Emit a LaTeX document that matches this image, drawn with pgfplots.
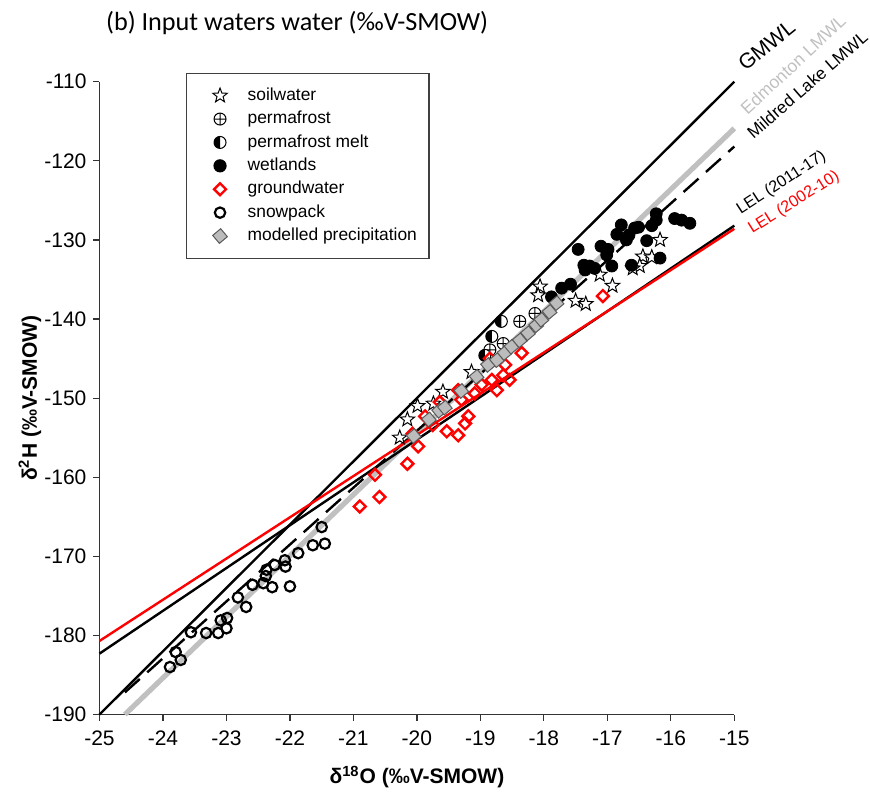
\documentclass[border=0pt]{standalone}
\usepackage{fontspec}
\setmainfont{Liberation Sans}
\newfontfamily\calibri{Carlito}
\usepackage{pgfplots}
\pgfplotsset{compat=1.18}
\usetikzlibrary{plotmarks}

\definecolor{lmwlgray}{RGB}{192,192,192}
\definecolor{prcpfill}{RGB}{188,188,188}
\definecolor{prcpedge}{RGB}{90,90,90}

% open five-pointed star
\pgfdeclareplotmark{ostar}{%
  \pgfpathmoveto{\pgfpointpolar{90}{\pgfplotmarksize}}%
  \pgfpathlineto{\pgfpointpolar{126}{0.42\pgfplotmarksize}}%
  \pgfpathlineto{\pgfpointpolar{162}{\pgfplotmarksize}}%
  \pgfpathlineto{\pgfpointpolar{198}{0.42\pgfplotmarksize}}%
  \pgfpathlineto{\pgfpointpolar{234}{\pgfplotmarksize}}%
  \pgfpathlineto{\pgfpointpolar{270}{0.42\pgfplotmarksize}}%
  \pgfpathlineto{\pgfpointpolar{306}{\pgfplotmarksize}}%
  \pgfpathlineto{\pgfpointpolar{342}{0.42\pgfplotmarksize}}%
  \pgfpathlineto{\pgfpointpolar{18}{\pgfplotmarksize}}%
  \pgfpathlineto{\pgfpointpolar{54}{0.42\pgfplotmarksize}}%
  \pgfpathclose
  \pgfusepathqfillstroke}

% circle, white with left half black
\pgfdeclareplotmark{lhalf}{%
  \pgfpathcircle{\pgfpointorigin}{\pgfplotmarksize}%
  \pgfsetfillcolor{white}%
  \pgfusepathqfillstroke
  \pgfpathmoveto{\pgfqpoint{0pt}{\pgfplotmarksize}}%
  \pgfpatharc{90}{270}{\pgfplotmarksize}%
  \pgfpathclose
  \pgfsetfillcolor{black}%
  \pgfusepathqfill}

\pgfplotsset{
  mk/.style={only marks,
    legend image code/.code={\path (0pt,0pt) (24pt,0pt);
      \draw[##1] plot coordinates {(12.5pt,0pt)};}},
}

\begin{document}
\begin{tikzpicture}
\begin{axis}[
    at={(0,0)}, anchor=south west,
    scale only axis, width=317.4pt, height=316.4pt,
    xmin=-25, xmax=-15, ymin=-190, ymax=-110,
    xtick={-25,-24,...,-15}, ytick={-190,-180,...,-110},
    axis x line*=bottom, axis y line*=left,
    axis line style={black!80, line width=0.6pt},
    tick align=outside, major tick length=3pt,
    tick style={black!80, line width=0.6pt},
    tick label style={font=\fontsize{10.5}{12}\selectfont},
    xticklabel style={yshift=-1.5pt},
    /pgf/number format/assume math mode=true,
    xlabel={δ\textsuperscript{18}O (‰V-SMOW)},
    ylabel={δ\textsuperscript{2}H (‰V-SMOW)},
    xlabel style={font=\bfseries\fontsize{10.5}{12}\selectfont,
      at={(axis description cs:0.5,-0.0988)}, anchor=center},
    ylabel style={font=\bfseries\fontsize{10.5}{12}\selectfont,
      at={(axis description cs:-0.1095,0.5)}, anchor=center},
    clip=false,
    legend style={at={(rel axis cs:0.136,1.014)}, anchor=north west,
      draw=black!75, line width=0.6pt, inner xsep=4pt, inner ysep=5pt,
      font=\fontsize{8.7}{10}\selectfont, row sep=-0.5pt,
      nodes={text height=6.4pt, text depth=1.8pt}},
    legend cell align=left,
    ]
    % water lines
    \addplot[black, line width=1.2pt, forget plot] coordinates {(-25,-190) (-15,-110)};
    \addplot[lmwlgray, line width=2.6pt, forget plot] coordinates {(-24.6,-190) (-15,-115.9)};
    \addplot[black, line width=1.2pt, dash pattern=on 10pt off 5pt, forget plot]
      coordinates {(-24.6,-187.2) (-15,-118.2)};
    \addplot[black, line width=1.2pt, forget plot] coordinates {(-25,-182.3) (-15,-128.2)};
    \addplot[red, line width=1.2pt, forget plot] coordinates {(-25,-180.7) (-15,-128.6)};

    % soilwater
    \addplot[mk, mark=ostar, mark size=3.8pt, mark options={draw=black, fill=white, line width=0.5pt}]
      coordinates {
      (-20.27,-155.0) (-20.15,-152.7) (-19.99,-151.0) (-19.74,-150.7)
      (-19.59,-149.2) (-19.14,-146.7) (-18.06,-135.9) (-18.09,-137.0)
      (-17.50,-137.7) (-17.34,-138.1) (-17.12,-134.4) (-16.92,-135.8)
      (-16.44,-132.1) (-16.30,-132.2) (-16.49,-133.3) (-16.17,-130.0)
      (-16.60,-133.6)
      };
    \addlegendentry{soilwater}
    % permafrost
    \addplot[mk, mark=oplus, mark size=3pt, mark options={draw=black, fill=white, line width=0.5pt}]
      coordinates {(-18.38,-140.3) (-18.14,-139.3) (-18.64,-143.1) (-18.85,-143.9)};
    \addlegendentry{permafrost}
    % permafrost melt
    \addplot[mk, mark=lhalf, mark size=3pt, mark options={draw=black, line width=0.5pt}]
      coordinates {(-18.82,-142.2) (-18.93,-144.6) (-18.67,-140.3)};
    \addlegendentry{permafrost melt}
    % wetlands
    \addplot[mk, mark=*, mark size=3pt, mark options={draw=black, fill=black}]
      coordinates {
      (-17.46,-131.2) (-16.78,-128.1) (-16.99,-131.2) (-17.01,-131.9)
      (-16.70,-130.0) (-16.66,-129.4) (-16.57,-128.5) (-16.51,-128.4)
      (-16.30,-128.2) (-16.23,-126.7) (-16.23,-127.5) (-16.38,-130.1)
      (-16.62,-133.2) (-16.93,-133.3) (-17.37,-133.2) (-17.28,-133.3)
      (-17.20,-133.6) (-17.35,-133.8) (-17.58,-135.6) (-17.72,-136.1)
      (-17.88,-137.2) (-16.17,-132.3) (-15.94,-127.3) (-15.83,-127.5)
      (-15.70,-127.9) (-16.85,-129.3) (-17.10,-130.8)
      };
    \addlegendentry{wetlands}
    % groundwater
    \addplot[mk, mark=square, mark size=2.1pt, mark options={draw=red, rotate=45, line width=1.2pt}]
      coordinates {
      (-20.90,-163.7) (-20.59,-162.5) (-20.66,-159.7) (-20.15,-158.3)
      (-19.98,-156.1) (-20.07,-154.5) (-19.87,-152.3) (-19.64,-150.5)
      (-19.53,-154.2) (-19.35,-154.7) (-19.24,-153.2) (-19.19,-152.3)
      (-19.35,-149.0) (-19.30,-150.2) (-19.09,-149.4) (-18.98,-148.3)
      (-18.82,-147.7) (-18.74,-149.0) (-18.64,-147.1) (-18.61,-145.8)
      (-18.54,-147.7) (-18.35,-144.3) (-17.07,-137.1) (-19.75,-153.4)
      (-18.85,-145.0)
      };
    \addlegendentry{groundwater}
    % snowpack
    \addplot[mk, mark=o, mark size=2.6pt, mark options={draw=black, line width=1.1pt}]
      coordinates {
      (-23.89,-184.0) (-23.72,-183.1) (-23.80,-182.1) (-23.56,-179.6)
      (-23.32,-179.7) (-23.13,-179.7) (-23.00,-179.1) (-23.09,-178.1)
      (-22.99,-177.8) (-22.82,-175.2) (-22.69,-176.4) (-22.59,-173.6)
      (-22.42,-173.4) (-22.28,-173.9) (-22.38,-172.5) (-22.37,-171.7)
      (-22.24,-171.1) (-22.08,-170.5) (-22.07,-171.3) (-22.00,-173.8)
      (-21.87,-169.6) (-21.64,-168.6) (-21.50,-166.3) (-21.45,-168.4)
      };
    \addlegendentry{snowpack}
    % modelled precipitation
    \addplot[mk, mark=square*, mark size=2.6pt,
      mark options={draw=prcpedge, fill=prcpfill, rotate=40, line width=0.5pt}]
      coordinates {
      (-20.05,-154.8) (-19.81,-152.7) (-19.65,-151.6) (-19.56,-151.2)
      (-19.30,-149.1) (-19.06,-147.3) (-18.88,-145.8) (-18.74,-145.2)
      (-18.62,-144.3) (-18.51,-143.5) (-18.38,-142.7) (-18.25,-141.8)
      (-18.12,-140.8) (-18.04,-140.1) (-17.91,-139.1) (-17.80,-138.0)
      };
    \addlegendentry{modelled precipitation}

    % line labels
    \node[anchor=base west, rotate=39, font=\fontsize{10.6}{12}\selectfont]
      at (axis cs:-14.91,-109.3) {GMWL};
    \node[anchor=base west, rotate=43, text=lmwlgray, font=\fontsize{8.8}{10}\selectfont]
      at (axis cs:-14.87,-114.9) {Edmonton LMWL};
    \node[anchor=base west, rotate=41, font=\fontsize{8.6}{10}\selectfont]
      at (axis cs:-14.78,-117.9) {Mildred Lake LMWL};
    \node[anchor=base west, rotate=33, font=\fontsize{8.1}{10}\selectfont]
      at (axis cs:-14.99,-127.3) {LEL (2011-17)};
    \node[anchor=base west, rotate=32, text=red, font=\fontsize{8.1}{10}\selectfont]
      at (axis cs:-14.81,-129.7) {LEL (2002-10)};

    % panel title
    \node[anchor=base west, xshift=-0.25pt, yshift=25.85pt, font=\calibri\fontsize{13.1}{15}\selectfont]
      at (rel axis cs:0,1) {(b) Input waters water (‰V-SMOW)};
\end{axis}
\pgfresetboundingbox
\path[use as bounding box] (-49.75pt,-38.75pt) rectangle (385.25pt,357.25pt);
\end{tikzpicture}
\end{document}
